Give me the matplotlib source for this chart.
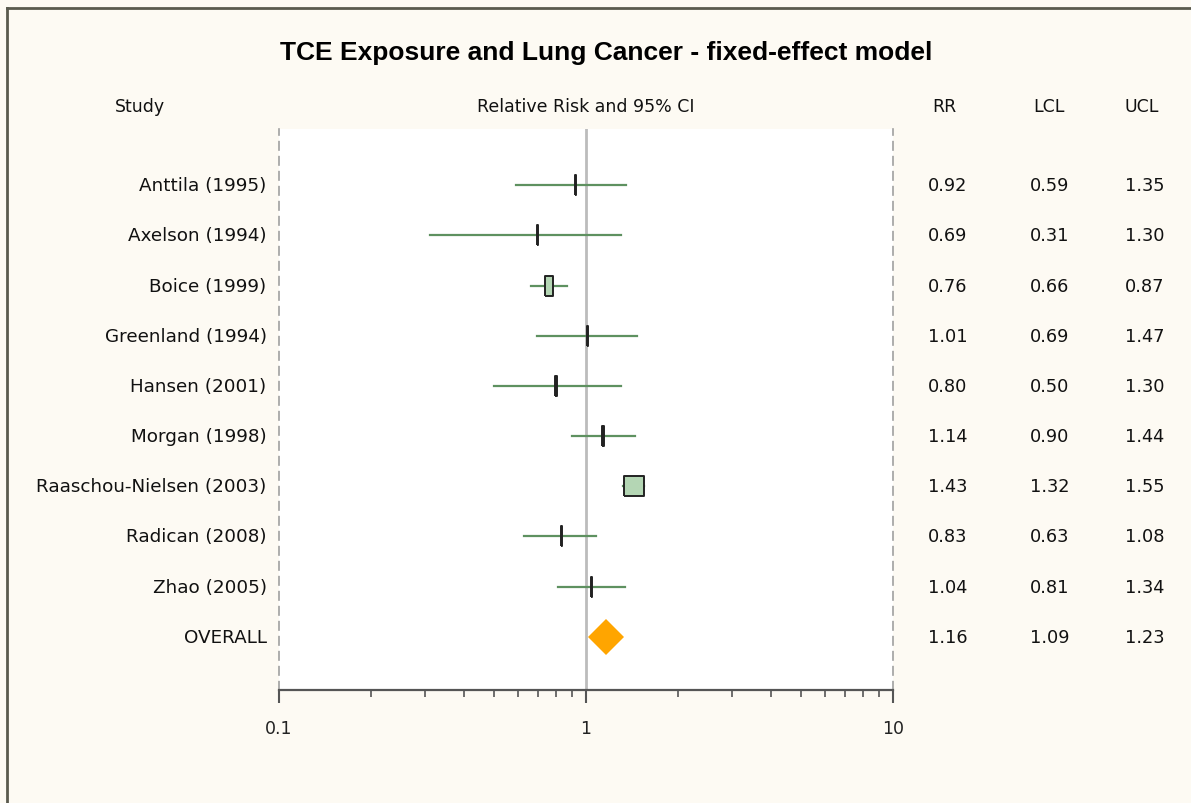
import matplotlib
matplotlib.use("Agg")
import numpy as np
import matplotlib.pyplot as plt
from matplotlib.lines import Line2D
from matplotlib.ticker import LogLocator, NullFormatter, FixedLocator, FixedFormatter

# data
studies = ["Anttila (1995)", "Axelson (1994)", "Boice (1999)", "Greenland (1994)",
           "Hansen (2001)", "Morgan (1998)", "Raaschou-Nielsen (2003)",
           "Radican (2008)", "Zhao (2005)"]
rr = [0.92, 0.69, 0.76, 1.01, 0.80, 1.14, 1.43, 0.83, 1.04]
lcl = [0.59, 0.31, 0.66, 0.69, 0.50, 0.90, 1.32, 0.63, 0.81]
ucl = [1.35, 1.30, 0.87, 1.47, 1.30, 1.44, 1.55, 1.08, 1.34]
overall_label = "OVERALL"
overall_rr, overall_lcl, overall_ucl = 1.16, 1.09, 1.23
tick_vals = [0.1, 1, 10]
tick_labels = ["0.1", "1", "10"]

# box widths in pixels (height fixed)
box_px = [1.0, 1.0, 8.0, 1.0, 2.5, 2.5, 20.0, 1.0, 1.0]
box_h = 20.0

bg = "#fdfaf3"
fig = plt.figure(figsize=(11.91, 8.04), dpi=100, facecolor=bg)
ax = fig.add_axes([279/1191, 113/804, 614/1191, 561/804])
ax.set_facecolor("white")
ax.set_xscale("log")
ax.set_xlim(0.1, 10)
n = len(studies)
ax.set_ylim(n + 1.06, -1.12)

ax.axvline(1, color="#bcbcbc", lw=2, zorder=1)

ys = np.arange(n)
for i in range(n):
    ax.plot([lcl[i], ucl[i]], [ys[i], ys[i]], color="#5e9160", lw=1.6, zorder=2)
    w = box_px[i]
    verts = [(-w/2, -box_h/2), (w/2, -box_h/2), (w/2, box_h/2), (-w/2, box_h/2), (-w/2, -box_h/2)]
    fc = "#b4d6b4" if w > 4 else "#333333"
    ax.plot([rr[i]], [ys[i]], marker=verts, markersize=box_h * 72 / 100,
            markerfacecolor=fc, markeredgecolor="#222222", markeredgewidth=1.4,
            linestyle="none", zorder=3)

ax.plot([overall_lcl, overall_ucl], [n, n], color="#444444", lw=1, zorder=2)
ax.plot([overall_rr], [n], marker="D", markersize=18.5, color="#ffa500",
        markeredgewidth=0, linestyle="none", zorder=4)

# spines
ax.spines["top"].set_visible(False)
for s in ["left", "right"]:
    ax.spines[s].set_color("#a0a0a0")
    ax.spines[s].set_linestyle((0, (5, 4)))
    ax.spines[s].set_linewidth(1.2)
ax.spines["bottom"].set_color("#555555")
ax.spines["bottom"].set_linewidth(1.6)
ax.set_yticks([])
ax.xaxis.set_major_locator(FixedLocator(tick_vals))
ax.xaxis.set_major_formatter(FixedFormatter(tick_labels))
ax.xaxis.set_minor_locator(LogLocator(base=10, subs=np.arange(2, 10)))
ax.xaxis.set_minor_formatter(NullFormatter())
ax.tick_params(axis="x", which="major", length=9, width=1.5, color="#555555",
               labelsize=12.5, pad=12, labelcolor="#222222")
ax.tick_params(axis="x", which="minor", length=5, width=1.2, color="#555555")
for lab in ax.get_xticklabels():
    lab.set_family("DejaVu Sans")

# study labels and values
tr = ax.get_yaxis_transform()
fs = 13.2
all_labels = studies + [overall_label]
all_rr = rr + [overall_rr]
all_lcl = lcl + [overall_lcl]
all_ucl = ucl + [overall_ucl]
for i in range(n + 1):
    ax.text(-0.02, i, all_labels[i], transform=tr, ha="right", va="center",
            fontsize=fs, color="#111111", family="DejaVu Sans")
    ax.text(1.0896, i, f"{all_rr[i]:.2f}", transform=tr, ha="center", va="center",
            fontsize=12.8, color="#111111", family="DejaVu Sans")
    ax.text(1.2557, i, f"{all_lcl[i]:.2f}", transform=tr, ha="center", va="center",
            fontsize=12.8, color="#111111", family="DejaVu Sans")
    ax.text(1.4104, i, f"{all_ucl[i]:.2f}", transform=tr, ha="center", va="center",
            fontsize=12.8, color="#111111", family="DejaVu Sans")

# headers
hy = 1 - 107/804
hfs = 12.5
fig.text(140/1191, hy, "Study", ha="center", va="center", fontsize=hfs, family="DejaVu Sans", color="#111111")
fig.text(586/1191, hy, "Relative Risk and 95% CI", ha="center", va="center", fontsize=hfs, family="DejaVu Sans", color="#111111")
fig.text(944/1191, hy, "RR", ha="center", va="center", fontsize=hfs, family="DejaVu Sans", color="#111111")
fig.text(1049/1191, hy, "LCL", ha="center", va="center", fontsize=hfs, family="DejaVu Sans", color="#111111")
fig.text(1142/1191, hy, "UCL", ha="center", va="center", fontsize=hfs, family="DejaVu Sans", color="#111111")

fig.text(606/1191, 1 - 53/804, "TCE Exposure and Lung Cancer - fixed-effect model",
         ha="center", va="center", fontsize=19, fontweight="bold",
         family="Liberation Sans", color="#000000")

# outer frame (left and top edges)
fig.add_artist(Line2D([7/1191, 7/1191], [0, 1 - 9/804], color="#5a5a4e", lw=2))
fig.add_artist(Line2D([7/1191, 1], [1 - 9/804, 1 - 9/804], color="#5a5a4e", lw=2))

fig.savefig("out.png", dpi=100, facecolor=bg)
